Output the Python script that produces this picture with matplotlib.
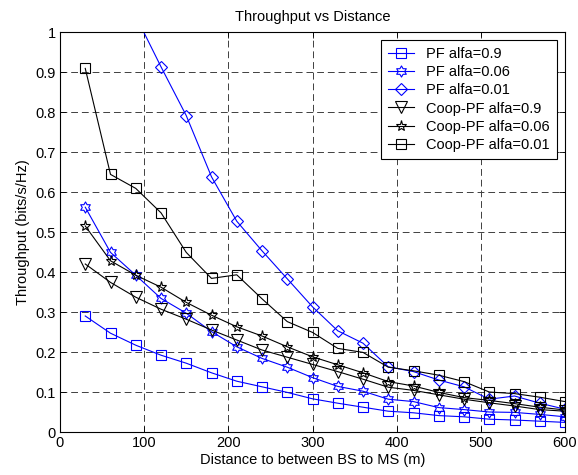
import numpy as np
import matplotlib
matplotlib.use('Agg')
from matplotlib import pyplot as plt
from matplotlib.path import Path
from matplotlib.ticker import FormatStrFormatter

distance = [30, 60, 90, 120, 150, 180, 210, 240, 270, 300,
            330, 360, 390, 420, 450, 480, 510, 540, 570, 600]

pf_09 = [0.290, 0.247, 0.217, 0.192, 0.172, 0.148, 0.127, 0.113, 0.099, 0.083,
         0.072, 0.062, 0.052, 0.048, 0.041, 0.038, 0.032, 0.030, 0.027, 0.024]
pf_006 = [0.562, 0.449, 0.392, 0.334, 0.297, 0.251, 0.213, 0.184, 0.162, 0.136,
          0.114, 0.102, 0.082, 0.076, 0.061, 0.056, 0.050, 0.049, 0.044, 0.038]
pf_001 = [1.70, 1.30, 1.04, 0.913, 0.791, 0.638, 0.527, 0.453, 0.383, 0.313,
          0.253, 0.222, 0.163, 0.151, 0.130, 0.113, 0.082, 0.090, 0.072, 0.057]
coop_09 = [0.420, 0.374, 0.337, 0.307, 0.282, 0.255, 0.230, 0.205, 0.187, 0.169,
           0.151, 0.132, 0.112, 0.104, 0.093, 0.082, 0.073, 0.065, 0.056, 0.052]
coop_006 = [0.515, 0.428, 0.392, 0.362, 0.324, 0.292, 0.263, 0.240, 0.213, 0.188,
            0.168, 0.148, 0.126, 0.115, 0.099, 0.086, 0.079, 0.071, 0.062, 0.055]
coop_001 = [0.909, 0.644, 0.609, 0.548, 0.449, 0.384, 0.393, 0.333, 0.276, 0.249,
            0.209, 0.199, 0.162, 0.153, 0.142, 0.126, 0.100, 0.096, 0.087, 0.076]

plt.rcParams['font.family'] = 'Liberation Sans'
plt.rcParams['font.size'] = 10.5

# six-pointed star (matlab 'hexagram')
ang = np.deg2rad(90 + 30 * np.arange(12))
rad = np.where(np.arange(12) % 2 == 0, 1.0, 1 / np.sqrt(3))
hexagram = Path(np.column_stack([rad * np.cos(ang), rad * np.sin(ang)]).tolist() + [[0, 1]], closed=True)

fig = plt.figure(figsize=(5.78, 4.75), dpi=100)
ax = fig.add_axes([60 / 578, 43 / 475, 505 / 578, 400 / 475])

blue = '#0000ff'
kw = dict(linewidth=0.8, markerfacecolor='none', markeredgewidth=0.8)
ax.plot(distance, pf_09, color=blue, marker='s', markersize=7, label='PF alfa=0.9', **kw)
ax.plot(distance, pf_006, color=blue, marker=hexagram, markersize=8, label='PF alfa=0.06', **kw)
ax.plot(distance, pf_001, color=blue, marker='D', markersize=6, label='PF alfa=0.01', **kw)
ax.plot(distance, coop_09, color='black', marker='v', markersize=8, label='Coop-PF alfa=0.9', **kw)
ax.plot(distance, coop_006, color='black', marker='*', markersize=8, label='Coop-PF alfa=0.06', **kw)
ax.plot(distance, coop_001, color='black', marker='s', markersize=7, label='Coop-PF alfa=0.01', **kw)

ax.set_xlim(0, 600)
ax.set_ylim(0, 1)
ax.set_xticks(range(0, 601, 100))
ax.set_yticks(np.arange(0, 1.01, 0.1))
ax.yaxis.set_major_formatter(FormatStrFormatter('%g'))
ax.tick_params(direction='in', top=True, right=True, length=4, width=0.6, pad=3)
for s in ax.spines.values():
    s.set_linewidth(0.8)

ax.grid(True, color='0.25', linestyle=(0, (7, 4)), linewidth=0.7)

ax.set_title('Throughput vs Distance', fontsize=10.5, pad=8)
ax.set_xlabel('Distance to between BS to MS (m)', labelpad=2)
ax.set_ylabel('Throughput (bits/s/Hz)', labelpad=4)

leg = ax.legend(loc='upper right', fancybox=False, framealpha=1, edgecolor='black',
                handlelength=1.8, handletextpad=0.8, labelspacing=0.28,
                borderaxespad=0.55, borderpad=0.5)
leg.get_frame().set_linewidth(0.8)

fig.savefig('out.png', dpi=100)
